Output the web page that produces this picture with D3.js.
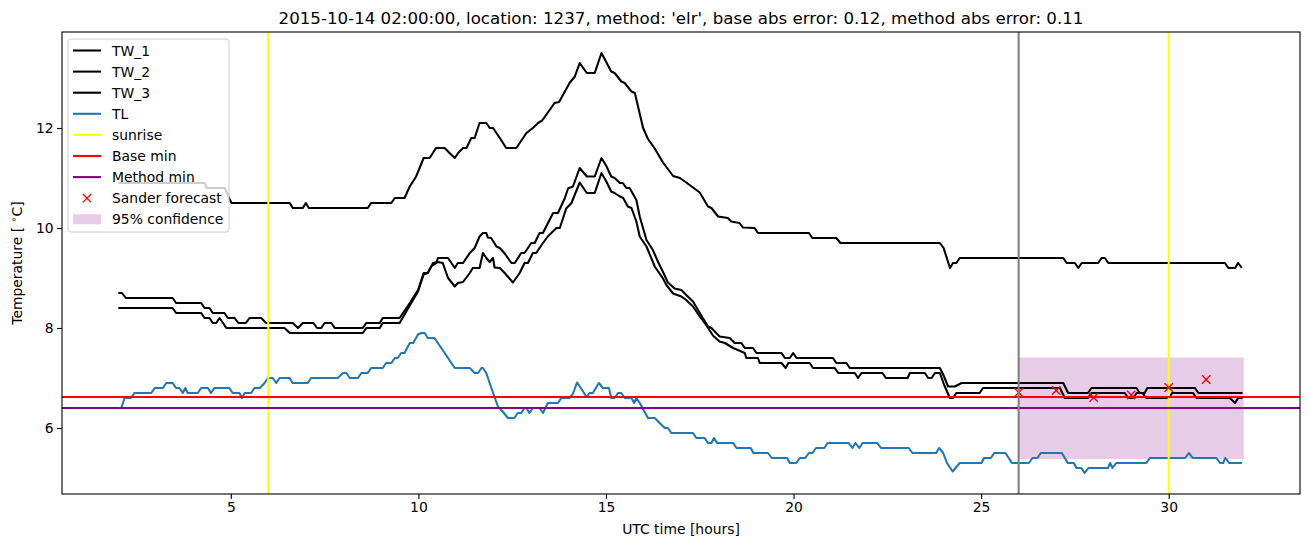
<!DOCTYPE html>
<html><head><meta charset="utf-8">
<script src="https://cdn.jsdelivr.net/npm/d3@7/dist/d3.min.js"></script>
<style>body{margin:0;background:#fff} text{font-family:"DejaVu Sans",sans-serif;fill:#000}</style>
</head><body><svg id="c" width="1310" height="547"></svg>
<script>
const titleText = "2015-10-14 02:00:00, location: 1237, method: 'elr', base abs error: 0.12, method abs error: 0.11";
const xTicks = [5, 10, 15, 20, 25, 30];
const yTicks = [6, 8, 10, 12];
const legendLabels = ["TW_1","TW_2","TW_3","TL","sunrise","Base min","Method min","Sander forecast","95% confidence"];

const tw1 = [[2.0,10.9],[4.3,10.9],[4.36,10.8],[4.84,10.8],[4.9,10.7],[4.95,10.6],[5.02,10.5],[6.57,10.5],[6.65,10.4],[6.92,10.4],[7.0,10.5],[7.08,10.4],[8.65,10.4],[8.74,10.5],[9.28,10.5],[9.37,10.6],[9.63,10.6],[9.77,10.83],[9.94,11.03],[10.14,11.4],[10.3,11.4],[10.47,11.6],[10.7,11.6],[10.83,11.5],[10.97,11.4],[11.06,11.5],[11.19,11.6],[11.28,11.6],[11.41,11.8],[11.5,11.8],[11.63,12.1],[11.81,12.1],[11.9,12.0],[11.99,12.0],[12.17,11.8],[12.34,11.6],[12.61,11.6],[12.88,11.9],[13.05,12.0],[13.19,12.1],[13.3,12.15],[13.63,12.5],[13.75,12.52],[14.03,12.9],[14.17,13.03],[14.3,13.3],[14.49,13.1],[14.7,13.1],[14.88,13.5],[15.14,13.13],[15.23,13.1],[15.41,12.93],[15.5,12.9],[15.68,12.73],[15.77,12.7],[15.99,12.0],[16.12,11.78],[16.3,11.59],[16.52,11.31],[16.79,11.04],[16.97,11.0],[17.14,10.91],[17.5,10.71],[17.72,10.43],[17.81,10.4],[17.99,10.23],[18.25,10.2],[18.34,10.13],[18.56,10.1],[18.65,10.01],[18.96,10.0],[19.05,9.9],[20.41,9.9],[20.5,9.8],[21.14,9.8],[21.25,9.7],[23.9,9.7],[24.0,9.6],[24.17,9.2],[24.25,9.3],[24.34,9.3],[24.43,9.4],[27.19,9.4],[27.28,9.3],[27.5,9.3],[27.59,9.2],[27.68,9.3],[28.12,9.3],[28.21,9.4],[28.3,9.4],[28.39,9.3],[31.5,9.3],[31.59,9.2],[31.77,9.2],[31.85,9.3],[31.95,9.2]];

const tw2 = [[2.0,8.7],[2.1,8.7],[2.2,8.6],[3.45,8.6],[3.54,8.5],[4.21,8.5],[4.3,8.4],[4.43,8.4],[4.52,8.3],[4.83,8.3],[4.92,8.2],[5.1,8.2],[5.2,8.1],[5.4,8.1],[5.5,8.2],[5.81,8.2],[5.94,8.1],[6.65,8.1],[6.79,8.0],[6.92,8.1],[7.2,8.1],[7.3,8.0],[7.41,8.0],[7.5,8.1],[7.68,8.1],[7.77,8.0],[8.52,8.0],[8.61,8.1],[8.97,8.1],[9.05,8.2],[9.5,8.2],[9.77,8.5],[9.99,8.76],[10.14,9.1],[10.25,9.1],[10.34,9.23],[10.48,9.3],[10.52,9.4],[10.79,9.4],[10.97,9.2],[11.05,9.3],[11.19,9.3],[11.37,9.5],[11.5,9.6],[11.63,9.83],[11.72,9.9],[11.81,9.9],[11.85,9.81],[11.94,9.8],[12.08,9.63],[12.17,9.6],[12.3,9.49],[12.48,9.3],[12.57,9.3],[12.74,9.5],[12.83,9.5],[13.01,9.7],[13.1,9.7],[13.23,9.9],[13.32,9.9],[13.59,10.3],[13.72,10.3],[13.9,10.59],[13.99,10.79],[14.12,10.83],[14.3,11.2],[14.49,11.03],[14.7,11.03],[14.88,11.4],[15.01,11.24],[15.14,11.03],[15.23,11.0],[15.37,10.9],[15.45,10.9],[15.54,10.8],[15.63,10.8],[15.81,10.56],[15.9,10.23],[16.08,9.76],[16.25,9.56],[16.39,9.32],[16.52,9.12],[16.65,8.91],[16.83,8.79],[17.01,8.76],[17.14,8.66],[17.32,8.53],[17.5,8.3],[17.72,8.03],[17.81,8.0],[18.03,7.83],[18.3,7.8],[18.43,7.7],[18.61,7.7],[18.7,7.6],[18.92,7.6],[19.01,7.5],[19.68,7.5],[19.77,7.4],[19.9,7.4],[19.99,7.5],[20.08,7.4],[21.05,7.4],[21.14,7.3],[21.41,7.3],[21.5,7.2],[23.9,7.2],[24.0,7.05],[24.12,6.83],[24.3,6.83],[24.48,6.9],[27.19,6.9],[27.32,6.7],[27.85,6.7],[27.94,6.8],[29.14,6.8],[29.23,6.7],[29.36,6.7],[29.43,6.8],[30.7,6.8],[30.79,6.7],[31.97,6.7]];

const tw3 = [[2.0,8.4],[3.45,8.4],[3.54,8.3],[4.21,8.3],[4.3,8.2],[4.43,8.2],[4.52,8.1],[4.61,8.1],[4.7,8.2],[4.79,8.1],[4.88,8.0],[6.43,8.0],[6.57,7.9],[8.52,7.9],[8.61,8.0],[8.97,8.0],[9.05,8.1],[9.5,8.1],[9.77,8.45],[9.99,8.73],[10.14,9.07],[10.25,9.1],[10.39,9.3],[10.52,9.32],[10.65,9.3],[10.79,9.0],[10.97,8.83],[11.05,8.9],[11.19,8.92],[11.37,9.1],[11.45,9.2],[11.63,9.2],[11.72,9.5],[11.81,9.4],[11.9,9.32],[11.99,9.4],[12.03,9.21],[12.17,9.2],[12.3,9.1],[12.52,8.91],[12.7,9.1],[12.83,9.3],[12.92,9.3],[13.05,9.5],[13.14,9.5],[13.32,9.7],[13.45,9.83],[13.68,10.0],[13.77,10.0],[13.94,10.39],[14.08,10.5],[14.3,10.91],[14.49,10.7],[14.7,10.7],[14.88,11.1],[15.01,10.93],[15.14,10.73],[15.23,10.7],[15.37,10.63],[15.46,10.6],[15.58,10.43],[15.68,10.4],[15.81,10.13],[15.9,9.83],[16.08,9.63],[16.3,9.23],[16.52,8.99],[16.61,8.86],[16.79,8.69],[17.01,8.63],[17.14,8.56],[17.32,8.43],[17.5,8.23],[17.68,8.05],[17.85,7.85],[17.94,7.79],[18.03,7.73],[18.17,7.7],[18.39,7.6],[18.7,7.5],[18.74,7.4],[19.05,7.4],[19.1,7.3],[19.68,7.3],[19.79,7.2],[19.86,7.3],[20.43,7.3],[20.52,7.2],[21.1,7.2],[21.19,7.1],[21.63,7.1],[21.72,7.0],[21.81,7.1],[22.37,7.1],[22.46,7.0],[23.04,7.0],[23.1,7.1],[23.5,7.1],[23.59,7.0],[23.68,7.0],[23.77,7.1],[23.9,7.1],[24.02,6.85],[24.17,6.6],[24.25,6.6],[24.34,6.7],[24.96,6.7],[25.05,6.8],[27.1,6.8],[27.23,6.6],[27.85,6.6],[27.94,6.7],[28.83,6.7],[28.92,6.6],[29.05,6.6],[29.15,6.7],[29.3,6.7],[29.4,6.6],[30.0,6.6],[30.09,6.7],[30.65,6.7],[30.74,6.6],[31.63,6.6],[31.77,6.5],[31.85,6.6],[31.97,6.6]];

const tl = [[2.0,6.4],[2.08,6.4],[2.17,6.6],[2.34,6.6],[2.43,6.7],[2.88,6.7],[2.97,6.8],[3.19,6.8],[3.28,6.9],[3.45,6.9],[3.54,6.8],[3.63,6.8],[3.72,6.7],[3.79,6.8],[3.85,6.7],[4.12,6.7],[4.21,6.8],[4.39,6.8],[4.47,6.7],[4.56,6.8],[4.96,6.8],[5.05,6.7],[5.23,6.7],[5.3,6.6],[5.37,6.7],[5.54,6.7],[5.63,6.8],[5.77,6.8],[5.9,6.9],[5.99,7.0],[6.12,7.0],[6.21,6.9],[6.3,7.0],[6.57,7.0],[6.65,6.9],[7.05,6.9],[7.14,7.0],[7.85,7.0],[7.99,7.1],[8.08,7.1],[8.17,7.0],[8.39,7.0],[8.48,7.1],[8.65,7.1],[8.74,7.2],[9.05,7.2],[9.14,7.3],[9.28,7.3],[9.37,7.4],[9.45,7.4],[9.54,7.5],[9.63,7.5],[9.77,7.7],[9.86,7.7],[9.99,7.87],[10.08,7.9],[10.17,7.9],[10.25,7.8],[10.43,7.8],[10.97,7.2],[11.37,7.2],[11.5,7.1],[11.59,7.1],[11.68,7.2],[11.72,7.2],[11.81,7.1],[11.94,6.81],[12.03,6.62],[12.12,6.43],[12.21,6.36],[12.39,6.2],[12.56,6.2],[12.65,6.3],[12.74,6.3],[12.83,6.4],[12.88,6.4],[12.96,6.3],[13.05,6.4],[13.23,6.4],[13.32,6.3],[13.45,6.5],[13.72,6.5],[13.81,6.6],[14.03,6.6],[14.12,6.69],[14.23,6.91],[14.34,6.79],[14.48,6.62],[14.56,6.7],[14.65,6.7],[14.81,6.9],[14.92,6.8],[15.08,6.8],[15.14,6.6],[15.23,6.6],[15.32,6.7],[15.41,6.7],[15.5,6.6],[15.68,6.6],[15.75,6.5],[15.81,6.6],[15.9,6.5],[16.12,6.2],[16.3,6.2],[16.43,6.1],[16.57,6.0],[16.65,6.0],[16.74,5.9],[17.32,5.9],[17.41,5.8],[17.63,5.8],[17.72,5.7],[17.81,5.7],[17.88,5.8],[17.96,5.7],[18.39,5.7],[18.48,5.6],[18.86,5.6],[18.93,5.5],[19.32,5.5],[19.42,5.4],[19.83,5.4],[19.9,5.3],[20.07,5.3],[20.17,5.4],[20.31,5.4],[20.41,5.5],[20.5,5.5],[20.6,5.6],[20.82,5.6],[20.91,5.7],[21.47,5.7],[21.57,5.6],[21.65,5.7],[21.75,5.6],[21.84,5.7],[22.23,5.7],[22.33,5.6],[23.07,5.6],[23.17,5.5],[23.8,5.5],[23.88,5.6],[23.99,5.5],[24.09,5.3],[24.24,5.13],[24.43,5.3],[25.01,5.3],[25.08,5.4],[25.26,5.4],[25.35,5.5],[25.65,5.5],[25.82,5.3],[26.27,5.3],[26.37,5.4],[26.5,5.4],[26.59,5.5],[27.15,5.5],[27.31,5.3],[27.47,5.3],[27.54,5.2],[27.67,5.2],[27.76,5.1],[27.86,5.2],[28.38,5.2],[28.44,5.3],[28.5,5.2],[28.6,5.3],[29.4,5.3],[29.5,5.4],[30.44,5.4],[30.54,5.5],[30.64,5.4],[31.27,5.4],[31.37,5.3],[31.45,5.3],[31.51,5.4],[31.61,5.3],[31.95,5.3]];

const sunriseTimes = [6, 30];
const forecastTime = 26;
const baseMin = 6.62;
const methodMin = 6.4;
const sanderTimes = [26, 27, 28, 29, 30, 31];
const sanderValues = [6.71, 6.75, 6.61, 6.66, 6.81, 6.97];
const confTimes = [26, 32];
const confLow = 5.38;
const confHigh = 7.41;

const L = 62, R = 1300, T = 32, B = 494;
const svg = d3.select("#c");
const x = d3.scaleLinear().domain([0.5, 33.5]).range([L, R]);
const y = d3.scaleLinear().domain([4.68, 13.92]).range([B, T]);

svg.append("defs").append("clipPath").attr("id","clip")
  .append("rect").attr("x",L).attr("y",T).attr("width",R-L).attr("height",B-T);
const g = svg.append("g").attr("clip-path","url(#clip)");

const lw = 2.08;
const line = d3.line().x(d=>x(d[0])).y(d=>y(d[1]));

// confidence band
g.append("path")
  .datum(confTimes.map(t=>[t, confLow, confHigh]))
  .attr("d", d3.area().x(d=>x(d[0])).y0(d=>y(d[1])).y1(d=>y(d[2])))
  .attr("fill","#800080").attr("fill-opacity",0.2);

[tw1, tw2, tw3].forEach(s=>{
  g.append("path").datum(s).attr("d", line).attr("fill","none")
    .attr("stroke","#000").attr("stroke-width",lw).attr("stroke-linejoin","round");
});
g.append("path").datum(tl).attr("d", line).attr("fill","none")
  .attr("stroke","#1f77b4").attr("stroke-width",lw).attr("stroke-linejoin","round");

sunriseTimes.forEach(t=>{
  g.append("line").attr("x1",x(t)).attr("x2",x(t)).attr("y1",T).attr("y2",B)
    .attr("stroke","#ffff00").attr("stroke-width",lw);
});
g.append("line").attr("x1",L).attr("x2",R).attr("y1",y(baseMin)).attr("y2",y(baseMin))
  .attr("stroke","#ff0000").attr("stroke-width",lw);
g.append("line").attr("x1",L).attr("x2",R).attr("y1",y(methodMin)).attr("y2",y(methodMin))
  .attr("stroke","#800080").attr("stroke-width",lw);

const ms = 4.17;
sanderTimes.forEach((t,i)=>{
  const cx = x(t), cy = y(sanderValues[i]);
  g.append("path").attr("d",`M${cx-ms},${cy-ms}L${cx+ms},${cy+ms}M${cx-ms},${cy+ms}L${cx+ms},${cy-ms}`)
    .attr("stroke","#ff0000").attr("stroke-width",1.4).attr("fill","none");
});

g.append("line").attr("x1",x(forecastTime)).attr("x2",x(forecastTime)).attr("y1",T).attr("y2",B)
  .attr("stroke","#808080").attr("stroke-width",lw);

// axes
const xa = svg.append("g").attr("transform",`translate(0,${B})`)
  .call(d3.axisBottom(x).tickValues(xTicks).tickSize(4.9).tickPadding(3.5).tickFormat(d3.format("d")));
const ya = svg.append("g").attr("transform",`translate(${L},0)`)
  .call(d3.axisLeft(y).tickValues(yTicks).tickSize(4.9).tickPadding(3.5).tickFormat(d3.format("d")));
[xa, ya].forEach(a=>{
  a.select(".domain").remove();
  a.selectAll("line").attr("stroke","#000").attr("stroke-width",1.1);
  a.selectAll("text").attr("font-size","13.9px").attr("font-family","DejaVu Sans").attr("fill","#000");
});
svg.append("rect").attr("x",L).attr("y",T).attr("width",R-L).attr("height",B-T)
  .attr("fill","none").attr("stroke","#000").attr("stroke-width",1.1);

svg.append("text").attr("x",(L+R)/2).attr("y",24).attr("text-anchor","middle")
  .attr("font-size","16.67px").text(titleText);
svg.append("text").attr("x",(L+R)/2).attr("y",534).attr("text-anchor","middle")
  .attr("font-size","13.9px").text("UTC time [hours]");
const yl = svg.append("text").attr("transform",`translate(22,${(T+B)/2}) rotate(-90)`)
  .attr("text-anchor","middle").attr("font-size","13.9px");
yl.append("tspan").text("Temperature [ ");
yl.append("tspan").attr("font-size","9.7px").attr("dy","-5").text("∘");
yl.append("tspan").attr("dy","5").text("C]");

// legend
const lg = svg.append("g");
lg.append("rect").attr("x",68).attr("y",39).attr("width",161).attr("height",193).attr("rx",2.8)
  .attr("fill","#fff").attr("fill-opacity",0.8).attr("stroke","#cccccc").attr("stroke-width",1);
const legendColors = ["#000","#000","#000","#1f77b4","#ffff00","#ff0000","#800080"];
legendLabels.forEach((lab,i)=>{
  const cy = 50.5 + i*21.1;
  if (i < 7) {
    lg.append("line").attr("x1",73).attr("x2",101).attr("y1",cy).attr("y2",cy)
      .attr("stroke",legendColors[i]).attr("stroke-width",lw);
  } else if (i === 7) {
    lg.append("path").attr("d",`M${87-ms},${cy-ms}L${87+ms},${cy+ms}M${87-ms},${cy+ms}L${87+ms},${cy-ms}`)
      .attr("stroke","#ff0000").attr("stroke-width",1.4);
  } else {
    lg.append("rect").attr("x",73).attr("y",cy-5).attr("width",28).attr("height",10)
      .attr("fill","#800080").attr("fill-opacity",0.2);
  }
  lg.append("text").attr("x",112).attr("y",cy).attr("dy","0.36em").attr("font-size","13.9px").text(lab);
});
</script></body></html>
